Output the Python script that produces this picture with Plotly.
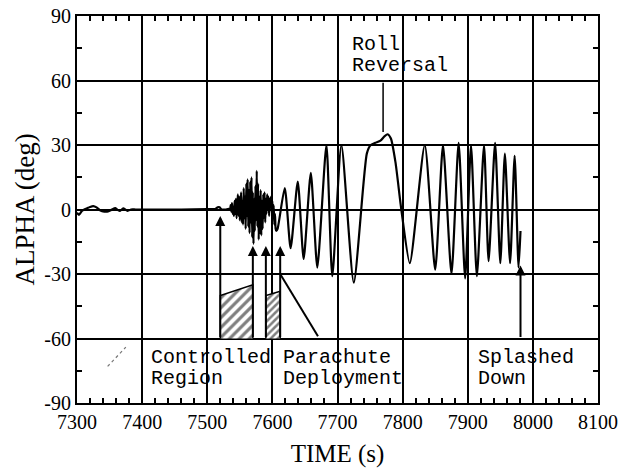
import plotly.graph_objects as go

# ---------------- data ----------------
time_s = [
    7300, 7303, 7308, 7315, 7320, 7325, 7330, 7336, 7342, 7346, 7352, 7359, 7363, 7366, 7371, 7375, 7378, 7383, 7390,
    7420, 7460, 7500, 7512, 7516, 7519, 7522, 7528, 7533,
    7535, 7536, 7537, 7538, 7539, 7540, 7541, 7542, 7543, 7544, 7545, 7546, 7547, 7548, 7549,
    7550, 7551, 7552, 7553, 7554, 7555, 7556, 7557, 7558, 7559, 7560, 7561, 7562, 7563, 7564,
    7565, 7566, 7567, 7568, 7569, 7570, 7571, 7572, 7573, 7574, 7575, 7576, 7577, 7578, 7579,
    7580, 7581, 7582, 7583, 7584, 7585, 7586, 7587, 7588, 7589, 7590, 7591, 7592, 7593, 7594,
    7595, 7596, 7597, 7598, 7599, 7600, 7601, 7602, 7603, 7604, 7605, 7606, 7608,
    7619, 7628, 7639, 7648, 7659, 7669, 7683, 7692, 7706, 7725,
    7745, 7751, 7758, 7766, 7772, 7777, 7782, 7789, 7798, 7811,
    7834, 7850, 7862, 7875, 7886, 7896, 7905, 7914, 7925, 7932, 7942, 7950, 7957, 7965, 7972, 7978, 7981,
]
alpha_deg = [
    -1.5, -2.5, -0.5, 0.5, 1.2, 1.6, 1.0, -0.5, -1.0, -1.0, -0.3, 0.6, -0.3, -0.7, 0.5, -0.2, -0.6, 0.0, 0.0,
    0.0, 0.0, 0.2, 0.2, 1.0, 1.0, 0.0, 0.0, 0.3,
    0, 2, -1, 3, -2, 1, -3, 4, -2, 5, -4, 2, 7, -3, 6,
    -5, 3, 8, -6, 4, -7, 10, -4, 6, -9, 12, -3, 14, -8, 9,
    -11, 13, -6, 15, -13, 8, -16, 5, -10, 11, -5, 18, -8, 12, -14,
    6, -11, 9, -12, 4, -9, 7, -4, 8, -6, 5, -2, 7, 0, 6,
    -3, 5, 1, 6, -1, 4, -4, 2, -7, -2, -9, -10, -9,
    10, -18, 13, -23, 17, -27, 30, -31, 30, -34,
    26, 30, 31, 32, 34, 35, 33, 22, 0, -25,
    30, -28, 30, -30, 31, -32, 30, -31, 30, -24, 31, -25, 26, -25, 25, -27, -10,
]

x_ticks = [7300, 7400, 7500, 7600, 7700, 7800, 7900, 8000, 8100]
x_tick_text = ["7300", "7400", "7500", "7600", "7700", "7800", "7900", "8000", "8100"]
y_ticks = [-90, -60, -30, 0, 30, 60, 90]
y_tick_text = ["-90", "-60", "-30", "0", "30", "60", "90"]

# event arrows (time, tip alpha)
event_times = [7520, 7570, 7590, 7612, 7981]
event_tips = [-3, -17, -17, -17, -26]
event_base = -60

# hatched regions
region1_t = [7520, 7520, 7570, 7570]
region1_a = [-60, -40, -35, -60]
region2_t = [7590, 7590, 7612, 7612]
region2_a = [-60, -40, -38, -60]

# labels
label_t = [7411, 7411, 7613, 7613, 7912, 7912, 7719, 7719]
label_a = [-68.8, -78.8, -68.8, -78.8, -68.8, -78.8, 76.8, 66.8]
label_txt = ["Controlled", "Region", "Parachute", "Deployment", "Splashed", "Down", "Roll", "Reversal"]

# ---------------- figure ----------------
fig = go.Figure()

fig.add_trace(go.Scatter(x=region1_t, y=region1_a, fill="toself", mode="lines",
                         line=dict(color="black", width=1.5),
                         fillcolor="white",
                         fillpattern=dict(shape="/", fgcolor="black", bgcolor="white", size=7, solidity=0.45),
                         showlegend=False, hoverinfo="skip"))
fig.add_trace(go.Scatter(x=region2_t, y=region2_a, fill="toself", mode="lines",
                         line=dict(color="black", width=1.5),
                         fillcolor="white",
                         fillpattern=dict(shape="/", fgcolor="black", bgcolor="white", size=5, solidity=0.5),
                         showlegend=False, hoverinfo="skip"))

fig.add_trace(go.Scatter(x=time_s, y=alpha_deg, mode="lines",
                         line=dict(color="black", width=2.2, shape="spline", smoothing=0.6),
                         showlegend=False))

for t, tip in zip(event_times, event_tips):
    fig.add_annotation(x=t, y=tip, ax=t, ay=event_base, xref="x", yref="y", axref="x", ayref="y",
                       text="", showarrow=True, arrowhead=2, arrowsize=1.0, arrowwidth=2, arrowcolor="black")

# pointer lines
fig.add_shape(type="line", x0=7612, y0=-30, x1=7670, y1=-59, line=dict(color="black", width=2))
fig.add_shape(type="line", x0=7770, y0=59, x1=7770, y1=36, line=dict(color="black", width=1.5))
fig.add_shape(type="line", x0=7347, y0=-73, x1=7375, y1=-64, line=dict(color="#777", width=1.2, dash="dot"))

for t, a, s in zip(label_t, label_a, label_txt):
    fig.add_annotation(x=t, y=a, xref="x", yref="y", text=s, showarrow=False,
                       xanchor="left", yanchor="middle",
                       font=dict(family="Liberation Mono", size=20, color="black"))

axis_common = dict(showline=True, linecolor="black", linewidth=2, mirror="ticks",
                   showgrid=True, gridcolor="black", gridwidth=1.5, zeroline=False,
                   ticks="inside", ticklen=6, tickcolor="black", tickwidth=1.5, automargin=False,
                   tickfont=dict(family="Liberation Serif", size=20, color="black"))

fig.update_xaxes(range=[7300, 8100], tickmode="array", tickvals=x_ticks, ticktext=x_tick_text,
                 minor=dict(tickmode="linear", tick0=7300, dtick=20, ticks="inside", ticklen=5,
                            tickcolor="black", tickwidth=1.5, showgrid=False),
                 title=dict(text="TIME (s)", font=dict(family="Liberation Serif", size=25, color="black"), standoff=14),
                 **axis_common)
fig.update_yaxes(range=[-90, 90], tickmode="array", tickvals=y_ticks, ticktext=y_tick_text,
                 minor=dict(tickmode="linear", tick0=-90, dtick=15, ticks="inside", ticklen=5,
                            tickcolor="black", tickwidth=1.5, showgrid=False),
                 title=dict(text="ALPHA (deg)", font=dict(family="Liberation Serif", size=27, color="black"), standoff=2),
                 **axis_common)

fig.update_layout(width=622, height=468, margin=dict(l=77, r=24, t=16, b=65),
                  paper_bgcolor="white", plot_bgcolor="white", showlegend=False)

fig.write_html("out.html", config={"displayModeBar": False},
               post_script="document.body.style.margin='0';document.body.style.overflow='hidden';")
